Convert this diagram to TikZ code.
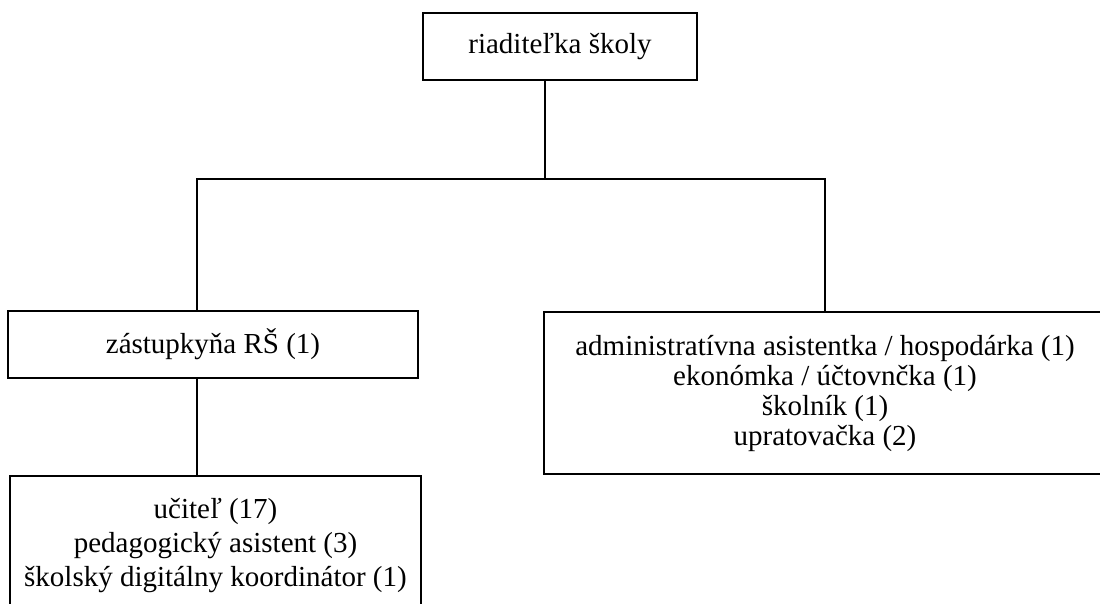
\documentclass[tikz,border=0pt]{standalone}
\usepackage{fontspec}
\setmainfont{Liberation Serif}
\begin{document}
\begin{tikzpicture}[x=1pt,y=-1pt,
  orgbox/.style={draw=black, line width=1.6pt, rectangle, inner sep=0pt, align=center,
    font=\fontsize{29}{34}\selectfont},
  link/.style={draw=black, line width=1.6pt}]
\useasboundingbox[fill=white] (0,0) rectangle (1100,603);
\node[orgbox, minimum width=274, minimum height=67] (top) at (560,46.5) {riaditeľka školy};
\node[orgbox, minimum width=410, minimum height=67] (zast) at (213,344.5) {zástupkyňa RŠ (1)};
\node[orgbox, minimum width=562, minimum height=162, font=\fontsize{29}{30}\selectfont] (admin) at (825,393)
  {administratívna asistentka / hospodárka (1)\\ekonómka / účtovnčka (1)\\školník (1)\\upratovačka (2)};
\node[orgbox, minimum width=411, minimum height=140, anchor=north] (ucit) at (215.5,475)
  {učiteľ (17)\\pedagogický asistent (3)\\školský digitálny koordinátor (1)};
\coordinate (busL) at (197,179);
\coordinate (busC) at (545,179);
\coordinate (busR) at (825,179);
\draw[link] (top.south -| busC) -- (busC);
\draw[link, line cap=rect] (busL) -- (busR);
\draw[link] (busL) -- (zast.north -| busL);
\draw[link] (busR) -- (admin.north -| busR);
\draw[link] (zast.south -| busL) -- (ucit.north -| busL);
\end{tikzpicture}
\end{document}
